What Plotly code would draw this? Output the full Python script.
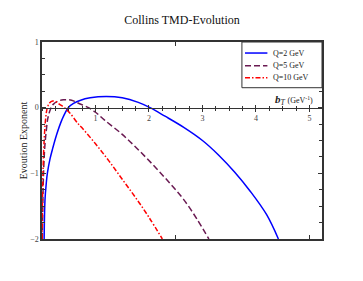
import plotly.graph_objects as go

# ---- data ----
series_names = ["Q=2 GeV", "Q=5 GeV", "Q=10 GeV"]

bT_q2 = [0.04, 0.056, 0.08, 0.10, 0.15, 0.20, 0.27, 0.37, 0.49, 0.60, 0.71, 0.90, 1.20, 1.50, 1.80, 2.02,
         2.30, 2.65, 3.00, 3.30, 3.60, 3.90, 4.20, 4.42]
evo_q2 = [-2.0, -1.40, -1.15, -1.0, -0.78, -0.62, -0.42, -0.19, 0.0, 0.07, 0.11, 0.15, 0.17, 0.15, 0.08, 0.0,
          -0.13, -0.30, -0.50, -0.72, -0.98, -1.28, -1.63, -2.0]

bT_q5 = [0.005, 0.015, 0.025, 0.05, 0.08, 0.11, 0.16, 0.21, 0.30, 0.40, 0.50, 0.60, 0.70, 0.87, 1.00,
         1.17, 1.49, 1.80, 2.11, 2.40, 2.65, 2.90, 3.12]
evo_q5 = [-2.0, -1.5, -1.1, -0.62, -0.35, -0.16, -0.02, 0.05, 0.10, 0.12, 0.12, 0.10, 0.06, 0.0, -0.07,
          -0.19, -0.40, -0.64, -0.90, -1.16, -1.40, -1.70, -2.0]

bT_q10 = [0.003, 0.01, 0.02, 0.04, 0.07, 0.10, 0.14, 0.20, 0.26, 0.33, 0.42, 0.52, 0.67, 0.74, 1.00,
          1.25, 1.50, 1.75, 2.00, 2.25]
evo_q10 = [-2.0, -1.4, -0.95, -0.5, -0.15, 0.0, 0.07, 0.10, 0.09, 0.05, 0.0, -0.08, -0.24, -0.30, -0.55,
           -0.81, -1.09, -1.37, -1.67, -2.0]

zero_axis_ticks = [1, 2, 3, 4, 5]
y_ticks = [-2, -1, 0, 1]

colors = ["#0000ff", "#6a1a52", "#ff0000"]
dashes = ["solid", "6px,3px", "5px,2px,1.5px,2px"]
axes_for = ["x", "x2", "x3"]
SERIF = "Liberation Serif, Times New Roman, serif"
AX = "#333333"
xr = [0, 5.235]

fig = go.Figure()
for xs, ys, nm, c, d, ax in zip([bT_q2, bT_q5, bT_q10], [evo_q2, evo_q5, evo_q10],
                                series_names, colors, dashes, axes_for):
    fig.add_trace(go.Scatter(x=xs, y=ys, mode="lines", name=nm,
                             line=dict(color=c, width=1.5, dash=d, shape="spline", smoothing=1.0),
                             xaxis=ax, yaxis="y", showlegend=False))

fig.update_layout(
    width=355, height=273,
    margin=dict(l=34, r=41, t=34, b=42, autoexpand=False),
    paper_bgcolor="white", plot_bgcolor="white",
    font=dict(family=SERIF, color="#222222"),
    title=dict(text="Collins TMD-Evolution", x=0.5, xref="paper", y=0.955, yanchor="middle",
               font=dict(family=SERIF, size=12, color="#111111")),
    showlegend=False,
    xaxis=dict(range=xr, showgrid=False, zeroline=False, showline=True, linecolor=AX, linewidth=1.5,
               mirror="ticks", ticks="inside", ticklen=4, tickcolor=AX, dtick=2.5, tick0=0,
               showticklabels=False),
    xaxis2=dict(range=xr, overlaying="x", anchor="free", position=2/3, showgrid=False, zeroline=False,
                showline=True, linecolor=AX, linewidth=1.2, ticks="outside", ticklen=3, tickcolor=AX,
                tickmode="array", tickvals=zero_axis_ticks,
                tickfont=dict(family=SERIF, size=8, color="#444444"),
                minor=dict(ticks="outside", dtick=0.25, tick0=0, ticklen=2, tickcolor=AX)),
    xaxis3=dict(range=xr, overlaying="x", anchor="free", position=2/3, showgrid=False, zeroline=False,
                showline=False, ticks="inside", ticklen=3, tickcolor=AX,
                tickmode="array", tickvals=zero_axis_ticks, showticklabels=False,
                minor=dict(ticks="inside", dtick=0.25, tick0=0, ticklen=2, tickcolor=AX)),
    yaxis=dict(range=[-2, 1], showgrid=False, zeroline=False, showline=True, linecolor=AX, linewidth=1.5,
               mirror="ticks", ticks="inside", ticklen=4, tickcolor=AX, tickmode="array", tickvals=y_ticks,
               tickfont=dict(family=SERIF, size=8, color="#444444"),
               minor=dict(ticks="inside", dtick=0.25, tick0=0, ticklen=3, tickcolor=AX),
               title=dict(text="Evoution Exponent", standoff=1, font=dict(family=SERIF, size=10, color="#222222"))),
)

# manual legend (box, line samples, labels)
fig.add_shape(type="rect", xref="paper", yref="paper", x0=0.714, x1=1.0, y0=0.768, y1=1.0,
              line=dict(color=AX, width=1), fillcolor="white", layer="above")
row_y = [0.944, 0.880, 0.818]
for ry, nm, c, d in zip(row_y, series_names, colors, dashes):
    fig.add_shape(type="line", xref="paper", yref="paper", x0=0.725, x1=0.805, y0=ry, y1=ry,
                  line=dict(color=c, width=1.5, dash=d), layer="above")
    fig.add_annotation(x=0.818, y=ry, xref="paper", yref="paper", xanchor="left", yanchor="middle",
                       showarrow=False, text=nm, font=dict(family=SERIF, size=8, color="#222222"))

fig.add_annotation(x=5.1, y=0.12, xref="x", yref="y", xanchor="right", yanchor="middle", showarrow=False,
                   text="<b><i>b</i></b><sub><i>T</i></sub> <span style='font-size:8px'>(GeV<sup>-1</sup>)</span>",
                   font=dict(family=SERIF, size=11, color="#222222"))

fig.write_html("out.html")
